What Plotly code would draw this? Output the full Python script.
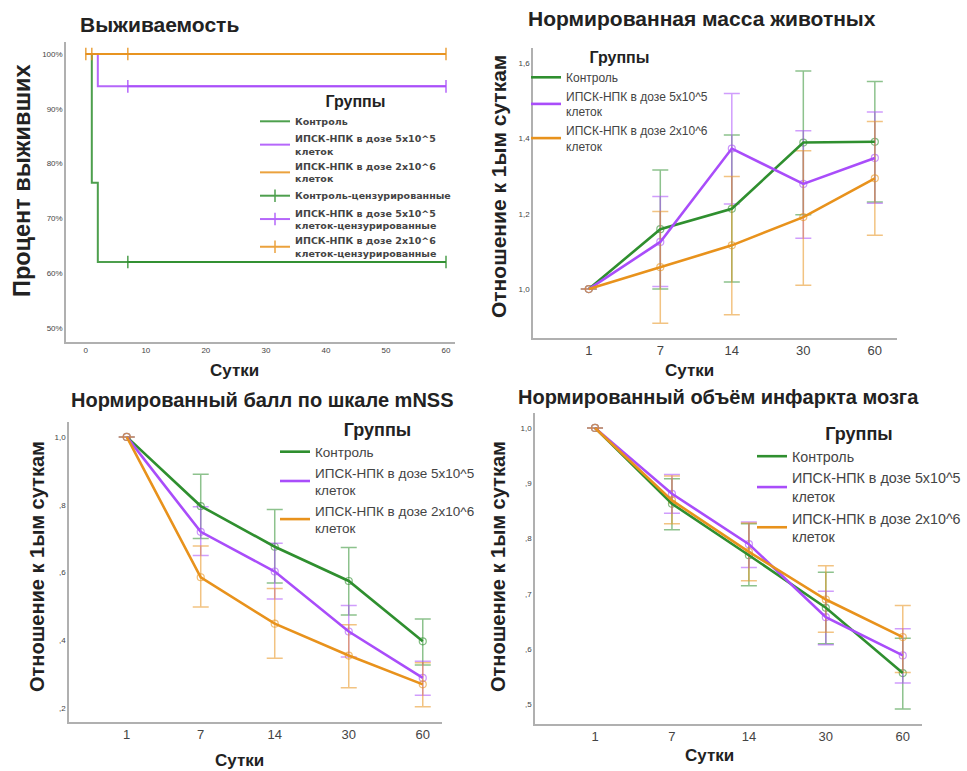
import plotly.graph_objects as go

W, H = 967, 771
GREEN = '#2f8f2f'
PURPLE = '#a94dfa'
ORANGE = '#e8921c'
FONT = 'Liberation Sans, Arial, sans-serif'
LFONT = 'DejaVu Sans, Verdana, sans-serif'


def rgba(h, a):
    h = h.lstrip('#')
    r, g, b = int(h[0:2], 16), int(h[2:4], 16), int(h[4:6], 16)
    return f'rgba({r},{g},{b},{a})'


# ---------------- data ----------------
group_names = ['Контроль',
               'ИПСК-НПК в дозе 5x10^5<br>клеток',
               'ИПСК-НПК в дозе 2x10^6<br>клеток']
censor_names = ['Контроль-цензурированные',
                'ИПСК-НПК в дозе 5x10^5<br>клеток-цензурированные',
                'ИПСК-НПК в дозе 2x10^6<br>клеток-цензурированные']

# survival (Kaplan-Meier), %
surv_days_ctrl = [0, 1, 2, 60]
surv_pct_ctrl = [100, 76.5, 62.0, 62.0]
surv_days_low = [0, 2, 60]
surv_pct_low = [100, 94.1, 94.1]
surv_days_high = [0, 60]
surv_pct_high = [100, 100]
cens_days_ctrl = [7, 60]
cens_days_low = [7, 60]
cens_days_high = [0, 1, 7, 60]
surv_ticks = [50, 60, 70, 80, 90, 100]
surv_ticktext = ['50%', '60%', '70%', '80%', '90%', '100%']
surv_xticks = [0, 10, 20, 30, 40, 50, 60]

day_labels = ['1', '7', '14', '30', '60']

# normalised body mass
mass_ctrl = [1.0, 1.159, 1.213, 1.389, 1.391]
mass_ctrl_hi = [1.0, 1.316, 1.409, 1.579, 1.551]
mass_ctrl_lo = [1.0, 1.0, 1.019, 1.197, 1.231]
mass_low = [1.0, 1.125, 1.373, 1.279, 1.348]
mass_low_hi = [1.0, 1.246, 1.519, 1.42, 1.47]
mass_low_lo = [1.0, 1.007, 1.226, 1.135, 1.228]
mass_high = [1.0, 1.058, 1.116, 1.191, 1.294]
mass_high_hi = [1.0, 1.206, 1.299, 1.367, 1.445]
mass_high_lo = [1.0, 0.909, 0.932, 1.01, 1.143]
mass_tickvals = [1.0, 1.2, 1.4, 1.6]
mass_ticktext = ['1,0', '1,2', '1,4', '1,6']

# normalised mNSS score
mnss_ctrl = [1.0, 0.796, 0.676, 0.575, 0.397]
mnss_ctrl_hi = [1.0, 0.89, 0.786, 0.674, 0.463]
mnss_ctrl_lo = [1.0, 0.70, 0.569, 0.475, 0.327]
mnss_low = [1.0, 0.72, 0.603, 0.426, 0.289]
mnss_low_hi = [1.0, 0.794, 0.686, 0.503, 0.338]
mnss_low_lo = [1.0, 0.65, 0.522, 0.351, 0.238]
mnss_high = [1.0, 0.586, 0.449, 0.355, 0.27]
mnss_high_hi = [1.0, 0.678, 0.553, 0.446, 0.334]
mnss_high_lo = [1.0, 0.498, 0.347, 0.26, 0.204]
mnss_tickvals = [0.2, 0.4, 0.6, 0.8, 1.0]
mnss_ticktext = [',2', ',4', ',6', ',8', '1,0']

# normalised infarct volume
inf_ctrl = [1.0, 0.863, 0.770, 0.675, 0.557]
inf_ctrl_hi = [1.0, 0.908, 0.827, 0.739, 0.62]
inf_ctrl_lo = [1.0, 0.816, 0.715, 0.61, 0.492]
inf_low = [1.0, 0.881, 0.79, 0.658, 0.589]
inf_low_hi = [1.0, 0.916, 0.83, 0.705, 0.637]
inf_low_lo = [1.0, 0.846, 0.748, 0.608, 0.539]
inf_high = [1.0, 0.869, 0.776, 0.69, 0.622]
inf_high_hi = [1.0, 0.913, 0.828, 0.751, 0.679]
inf_high_lo = [1.0, 0.827, 0.724, 0.631, 0.558]
inf_tickvals = [0.5, 0.6, 0.7, 0.8, 0.9, 1.0]
inf_ticktext = [',5', ',6', ',7', ',8', ',9', '1,0']

colors = [GREEN, PURPLE, ORANGE]

fig = go.Figure()

# ---------------- panel 1: survival ----------------
surv_sets = [(surv_days_ctrl, surv_pct_ctrl, cens_days_ctrl),
             (surv_days_low, surv_pct_low, cens_days_low),
             (surv_days_high, surv_pct_high, cens_days_high)]
for (d, p, c), name, col in zip(surv_sets, group_names, colors):
    fig.add_trace(go.Scatter(x=d, y=p, mode='lines', line=dict(color=col, width=2, shape='hv'),
                             opacity=0.85, name=name, xaxis='x', yaxis='y', legend='legend'))
for (d, p, c), name, col in zip(surv_sets, censor_names, colors):
    fig.add_trace(go.Scatter(x=c, y=[p[-1]] * len(c), mode='lines+markers',
                             line=dict(color=col, width=2),
                             marker=dict(symbol='line-ns', size=9, line=dict(color=col, width=1.5)),
                             opacity=0.85, name=name, xaxis='x', yaxis='y', legend='legend'))


# ---------------- panels 2-4: means with error bars ----------------
def add_panel(series, xa, ya, leg):
    xs = list(range(len(day_labels)))
    for (m, hi, lo), name, col in zip(series, group_names, colors):
        fig.add_trace(go.Scatter(
            x=xs, y=m, mode='markers', showlegend=False, xaxis=xa, yaxis=ya,
            marker=dict(symbol='circle-open', size=7, color=rgba(col, 0.6), line=dict(width=1.2)),
            error_y=dict(type='data', symmetric=False,
                         array=[h - v for h, v in zip(hi, m)],
                         arrayminus=[v - l for v, l in zip(m, lo)],
                         color=rgba(col, 0.55), thickness=1.5, width=8),
            hoverinfo='skip'))
    for (m, hi, lo), name, col in zip(series, group_names, colors):
        fig.add_trace(go.Scatter(x=xs, y=m, mode='lines', line=dict(color=col, width=2.6),
                                 name=name, xaxis=xa, yaxis=ya, legend=leg))


add_panel([(mass_ctrl, mass_ctrl_hi, mass_ctrl_lo),
           (mass_low, mass_low_hi, mass_low_lo),
           (mass_high, mass_high_hi, mass_high_lo)], 'x2', 'y2', 'legend2')
add_panel([(mnss_ctrl, mnss_ctrl_hi, mnss_ctrl_lo),
           (mnss_low, mnss_low_hi, mnss_low_lo),
           (mnss_high, mnss_high_hi, mnss_high_lo)], 'x3', 'y3', 'legend3')
add_panel([(inf_ctrl, inf_ctrl_hi, inf_ctrl_lo),
           (inf_low, inf_low_hi, inf_low_lo),
           (inf_high, inf_high_hi, inf_high_lo)], 'x4', 'y4', 'legend4')


def xd(a, b):
    return [a / W, b / W]


def yd(top, bottom):
    return [1 - bottom / H, 1 - top / H]


axis_common = dict(showline=True, linecolor='#b0b0b0', linewidth=1.5, showgrid=False,
                   zeroline=False, ticks='', tickfont=dict(family=FONT, color='#444'))


def ax(**kw):
    d = dict(axis_common)
    d.update(kw)
    return d


cat_x = dict(tickmode='array', tickvals=list(range(len(day_labels))), ticktext=day_labels,
             tickfont=dict(family=FONT, size=13, color='#444'))
small = dict(family=FONT, size=8, color='#444')

fig.update_layout(
    width=W, height=H, margin=dict(l=0, r=0, t=0, b=0),
    paper_bgcolor='white', plot_bgcolor='white',
    font=dict(family=FONT, color='#222'),
    xaxis=ax(domain=xd(66, 455), anchor='y', range=[-3.3, 61.5], tickmode='array',
             tickvals=surv_xticks, tickfont=small),
    yaxis=ax(domain=yd(42, 342), anchor='x', range=[47.4, 102.2], tickmode='array',
             tickvals=surv_ticks, ticktext=surv_ticktext, tickfont=small),
    xaxis2=ax(domain=xd(533, 897), anchor='y2', range=[-0.78, 4.31], **cat_x),
    yaxis2=ax(domain=yd(48, 338), anchor='x2', range=[0.87, 1.64], tickmode='array',
              tickvals=mass_tickvals, ticktext=mass_ticktext, tickfont=small),
    xaxis3=ax(domain=xd(69, 442), anchor='y3', range=[-0.78, 4.26], **cat_x),
    yaxis3=ax(domain=yd(422, 722), anchor='x3', range=[0.159, 1.044], tickmode='array',
              tickvals=mnss_tickvals, ticktext=mnss_ticktext, tickfont=small),
    xaxis4=ax(domain=xd(535, 922), anchor='y4', range=[-0.78, 4.25], **cat_x),
    yaxis4=ax(domain=yd(413, 724), anchor='x4', range=[0.465, 1.027], tickmode='array',
              tickvals=inf_tickvals, ticktext=inf_ticktext, tickfont=small),
)


def legend_cfg(x, y, size, tsize, family=FONT, weight='normal'):
    return dict(x=x / W, y=1 - y / H, xanchor='left', yanchor='top', bgcolor='rgba(0,0,0,0)',
                itemwidth=30, tracegroupgap=0,
                title=dict(text='<b>Группы</b>', side='top center',
                           font=dict(family=FONT, size=tsize, color='#222')),
                font=dict(family=family, size=size, color='#444', weight=weight))


fig.update_layout(
    legend=legend_cfg(255, 86, 9.5, 16, LFONT, 'bold'),
    legend2=legend_cfg(526, 42, 12, 16),
    legend3=legend_cfg(275, 413, 13.5, 18),
    legend4=legend_cfg(752, 417, 14.3, 18),
)

ann = []


def text(x, y, s, size, bold=True, angle=0, xanchor='center'):
    ann.append(dict(x=x / W, y=1 - y / H, xref='paper', yref='paper', text=f'<b>{s}</b>' if bold else s,
                    showarrow=False, textangle=angle, xanchor=xanchor, yanchor='middle',
                    font=dict(family=FONT, size=size, color='#222')))


text(78, 25, 'Выживаемость', 21, xanchor='left')
text(702, 18, 'Нормированная масса животных', 21)
text(262, 400, 'Нормированный балл по шкале mNSS', 20)
text(718, 397, 'Нормированный объём инфаркта мозга', 20)

text(22, 181, 'Процент выживших', 23.5, angle=-90)
text(498, 187, 'Отношение к 1ым суткам', 21, angle=-90)
text(37, 567, 'Отношение к 1ым суткам', 20, angle=-90)
text(498, 567, 'Отношение к 1ым суткам', 20, angle=-90)

text(234, 370, 'Сутки', 17)
text(689, 370, 'Сутки', 17)
text(239, 760, 'Сутки', 17)
text(709, 755, 'Сутки', 17)

fig.update_layout(annotations=ann)

fig.write_html('out.html', config={'displayModeBar': False},
               post_script="document.body.style.margin='0px';document.body.style.overflow='hidden';")
